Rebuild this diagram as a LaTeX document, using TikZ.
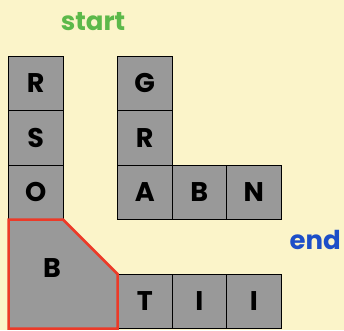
\documentclass[tikz,border=0pt]{standalone}
\usepackage{fontspec}
\setmainfont{Poppins}
\usetikzlibrary{positioning}
\definecolor{paper}{RGB}{251,244,201}
\definecolor{tilegray}{RGB}{153,153,153}
\definecolor{startgreen}{RGB}{92,185,74}
\definecolor{endblue}{RGB}{28,78,200}
\definecolor{pathred}{RGB}{236,58,40}

\begin{document}
\begin{tikzpicture}[x=1pt, y=-1pt,
		tile/.style={draw, fill=tilegray, line width=1pt, minimum size=54.5pt,
								inner sep=0pt, outer sep=0pt, font=\fontsize{27}{27}\selectfont\bfseries},
		tag/.style={inner sep=0pt, font=\fontsize{26}{26}\selectfont\bfseries},
		node distance=0pt,
	]
		% 배경
		\fill[paper] (0,0) rectangle (344,330);
		\useasboundingbox (0,0) rectangle (344,330);

		% 왼쪽 열
		\node[tile] (r1) at (35.75,83.25) {R};
		\node[tile, below=of r1] (s1) {S};
		\node[tile, below=of s1] (o1) {O};

		% 가운데 열과 오른쪽
		\node[tile] (g1) at (144.75,83.25) {G};
		\node[tile, below=of g1] (r2) {R};
		\node[tile, below=of r2] (a1) {A};
		\node[tile, right=of a1] (b1) {B};
		\node[tile, right=of b1] (n1) {N};

		% 아래 줄
		\node[tile] (t1) at (144.75,301.25) {T};
		\node[tile, right=of t1] (i1) {I};
		\node[tile, right=of i1] (i2) {I};

		% 잘린 칸
		\draw[pathred, fill=tilegray, line width=2.5pt, line join=miter]
			(o1.south west) -- (o1.south east) -- (t1.north west)
			-- (t1.south west) -- (o1.south west |- t1.south) -- cycle;
		\node[tile, draw=none, fill=none] (b2) at (52,268) {B};

		% 표시
		\node[tag, text=startgreen] (start) at (93,22) {start};
		\node[tag, text=endblue, anchor=east] (end) at (341,240) {end};
	\end{tikzpicture}
\end{document}
